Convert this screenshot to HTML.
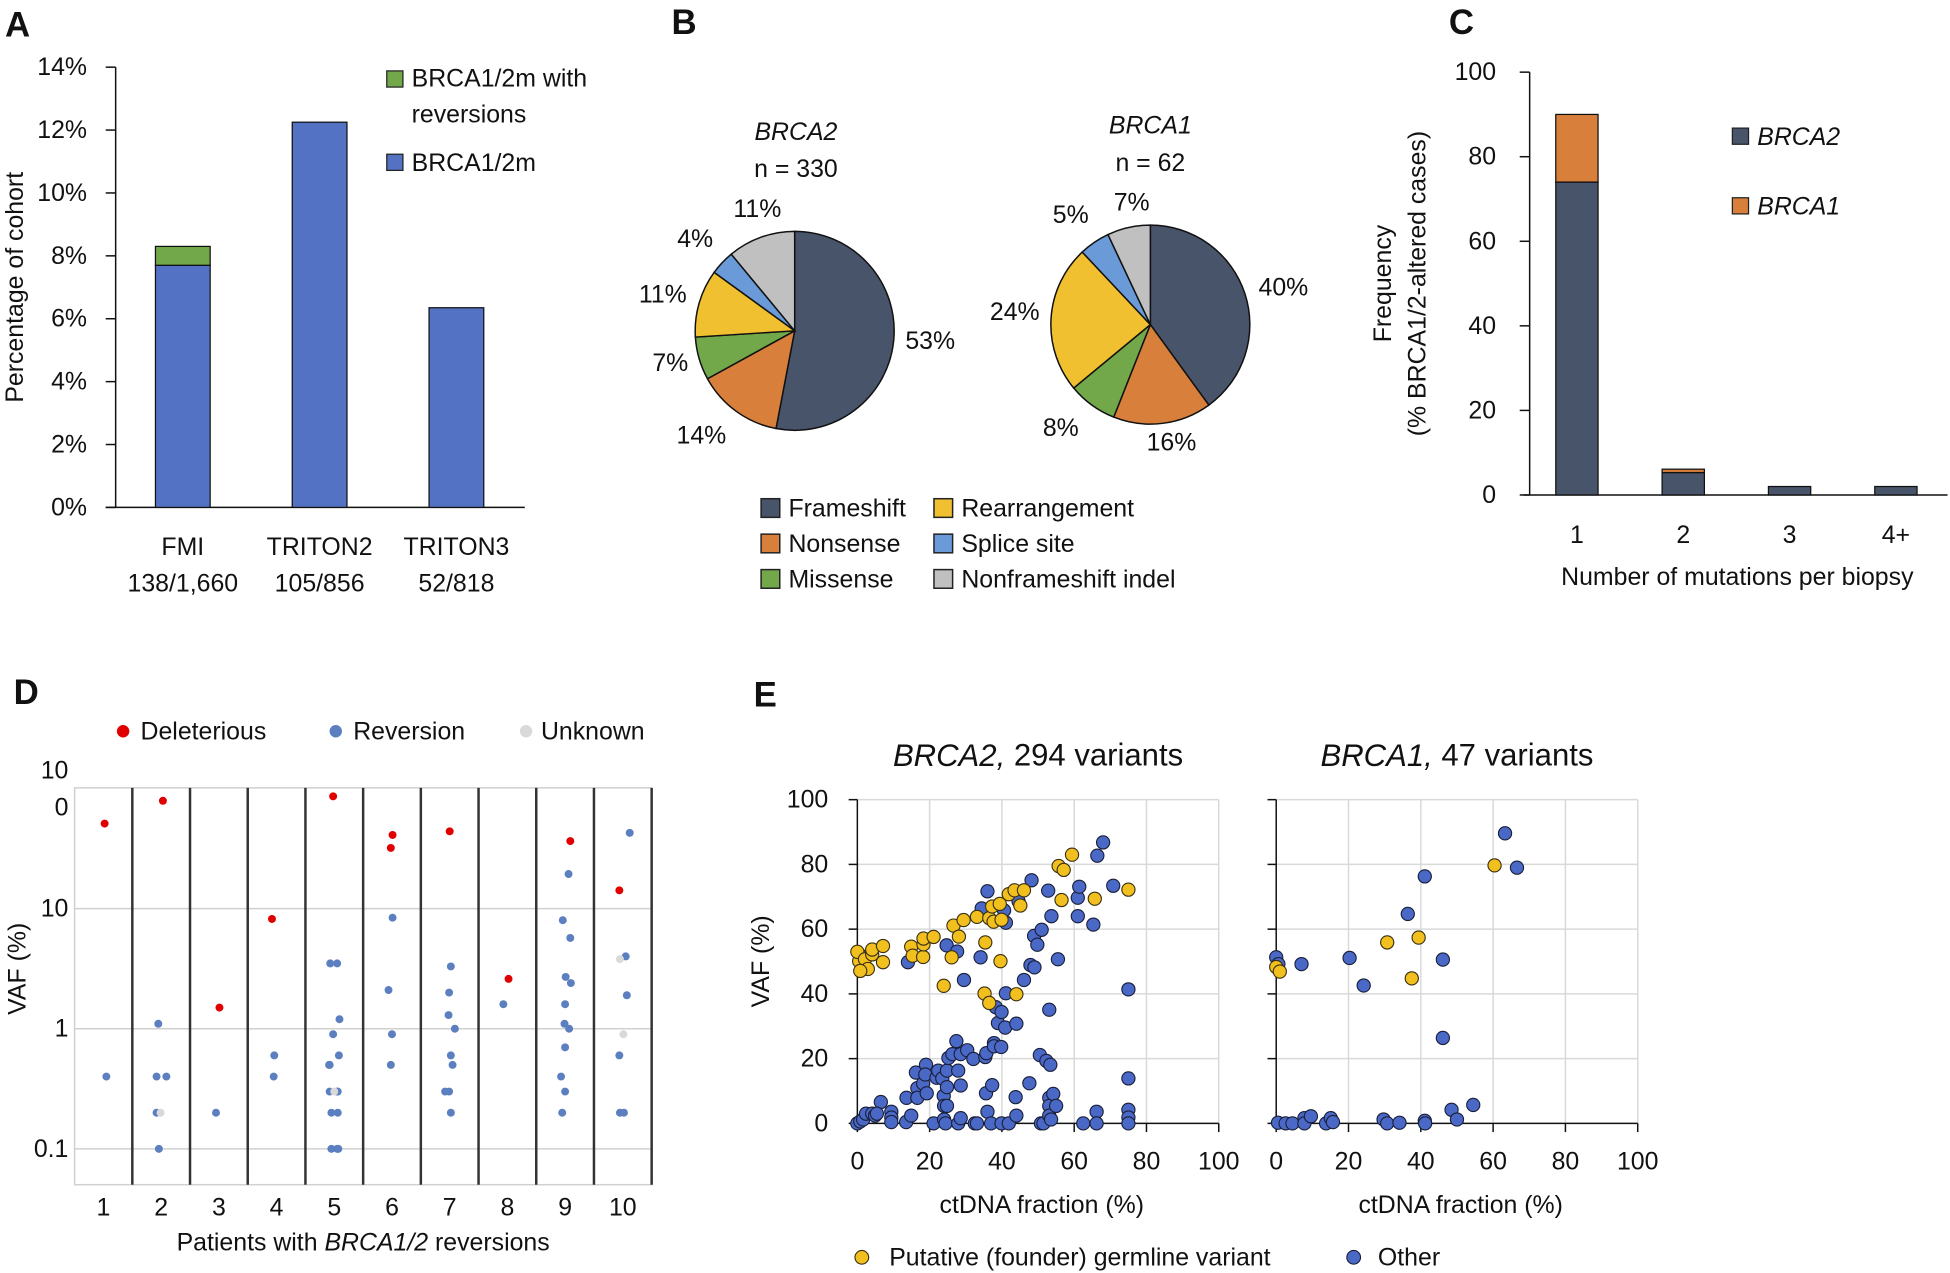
<!DOCTYPE html>
<html><head><meta charset="utf-8">
<style>
html,body{margin:0;padding:0;background:#fff;}
svg{display:block;font-family:"Liberation Sans",sans-serif;}
</style></head>
<body>
<svg id="fig" width="1950" height="1273" viewBox="0 0 1568 1023.6" xmlns="http://www.w3.org/2000/svg"></svg>
<script>
// ---------- Panel A data ----------
const aCats = ["FMI","TRITON2","TRITON3"];
const aSub = ["138/1,660","105/856","52/818"];
const aBase = [7.7, 12.25, 6.35];
const aRev = [0.6, 0, 0];
const aTicks = [0,2,4,6,8,10,12,14];
// ---------- Panel B data ----------
const bCats = ["Frameshift","Nonsense","Missense","Rearrangement","Splice site","Nonframeshift indel"];
const bBrca2 = [53,14,7,11,4,11];
const bBrca1 = [40,16,8,24,5,7];
// ---------- Panel C data ----------
const cCats = ["1","2","3","4+"];
const cBrca2 = [74, 5.3, 2, 2];
const cBrca1 = [16, 0.8, 0, 0];
const cTicks = [0,20,40,60,80,100];
// ---------- Panel D data ----------
const dPatient = [1,1, 2,2,2,2,2,2,2, 3,3, 4,4,4, 5,5,5,5,5,5,5,5,5,5,5,5,5,5,5,5,5, 6,6,6,6,6,6, 7,7,7,7,7,7,7,7,7,7, 8,8, 9,9,9,9,9,9,9,9,9,9,9,9,9, 10,10,10,10,10,10,10,10,10];
const dVaf = [51,0.4, 79,1.1,0.4,0.4,0.2,0.2,0.1, 1.5,0.2, 8.2,0.6,0.4, 86,3.5,3.5,1.2,0.9,0.5,0.5,0.6,0.3,0.3,0.3,0.2,0.2,0.1,0.1,0.1,0.3, 41,32,8.4,2.1,0.9,0.5, 44,3.3,2.0,1.3,1.0,0.6,0.5,0.3,0.3,0.2, 2.6,1.6, 36.5,19.4,8.0,5.7,2.7,2.4,1.6,1.1,1.0,0.7,0.4,0.3,0.2, 14.2,42.7,4.0,3.8,1.9,0.9,0.6,0.2,0.2];
const dType = ["d","r", "d","r","r","r","r","u","r", "d","r", "d","r","r", "d","r","r","r","r","r","r","r","r","r","r","r","r","r","r","r","u", "d","d","r","r","r","r", "d","r","r","r","r","r","r","r","r","r", "d","r", "d","r","r","r","r","r","r","r","r","r","r","r","r", "d","r","r","u","r","u","r","r","r"];
const dJitter = [0.02,0.05, 0.03,-0.05,-0.08,0.09,-0.08,-0.01,-0.04, 0.01,-0.05, -0.08,-0.04,-0.05, -0.02,-0.07,0.05,0.09,-0.02,-0.08,-0.09,0.08,-0.08,0.06,0.05,-0.05,0.06,-0.05,0.07,0.05,0.0, 0.01,-0.02,0.01,-0.06,0.0,-0.02, 0.0,0.02,-0.01,-0.02,0.09,0.02,0.05,-0.08,-0.01,0.02, 0.02,-0.07, 0.09,0.06,-0.04,0.09,0.01,0.1,0.0,-0.01,0.07,0.0,-0.07,0.0,-0.05, -0.06,0.12,0.05,-0.05,0.07,0.01,-0.06,-0.05,0.02];
const dTicks = [0.1,1,10];
// ---------- Panel E data ----------
const b2GermX = [0.5,0,2.1,2.9,4.1,4.1,0.8,7.1,7.1,14.9,15.3,18.2,18.3,18.3,21.1,23.9,26.1,26.6,28.1,29.4,33.1,35.4,35.2,36.5,36.5,37.7,37.3,39.4,39.9,39.6,41.9,43.5,44,45.1,46.1,55.7,57.1,59.4,56.5,65.7,75];
const b2GermY = [50.1,53,50.7,47.7,52.2,53.7,47.1,49.8,54.8,54.6,51.8,51.4,55.3,57.1,57.6,42.5,51.3,61.1,57.7,62.8,63.8,55.9,40.1,37.2,63.4,62.3,67,67.8,62.9,50.1,70.8,72,39.9,67.3,72,79.5,78.3,83,69,69.4,72.2];
const b2OtherX = [0.8,1.3,0,0.8,1.6,2.4,4.1,4.9,6.5,5.4,9.4,9.4,9.4,13.5,13.6,14.9,14,16.2,16.6,16.6,18.2,19,18.8,19.2,21.1,21.9,22.4,23.5,23.9,24,24,24.4,24.7,24.8,24.8,25.2,24.8,26.3,27.4,27.6,27.9,27.9,28.6,28.6,28.6,29.5,30.4,32.1,32.5,33.1,34.1,34.4,35.4,35.6,35.7,36,36,37,37.3,37.8,37.8,38.3,38.9,39.8,39.9,39.9,40.6,41.1,40.9,41.1,41.9,43.8,44,44,44.6,46.1,47.6,47.9,48.2,48.9,49,49.8,50.5,51,50.8,51.5,52.3,52.8,53.1,53.4,53.1,53.1,53.1,53.6,53.7,54.2,55,55.5,61,61.4,61,62.5,65.3,66.2,66.2,66.4,68,70.8,75,75,75,75,75];
const b2OtherY = [51.9,50.7,0,0.6,1.2,3,3,2.4,6.6,3,3.6,1.8,0.4,0.4,7.9,2.4,49.8,15.7,10.9,7.9,12.3,18.1,15.1,9.3,0,14.1,16.3,13.9,8.5,5.4,1.2,0,55,11.2,16.3,20.2,5.4,21.4,25.4,53.1,16.3,0,11.7,21.4,1.6,44.3,22.6,19.9,0,0,51.3,66.4,20.5,9.3,21.7,71.7,3.6,0,11.8,24.8,23.8,35.9,31,23.6,34.4,0,65.8,62,29.6,40.2,0,8.1,2.4,30.8,68.6,44.3,12.4,48.9,75.1,57.9,48.2,55.2,21.1,59.8,0,0,19.3,71.9,35.1,18.1,7.9,5.4,2.4,1.2,64,9.1,5.4,50.7,69.7,73.1,64,0,61.4,3.6,0,82.7,86.8,73.4,41.4,13.9,4.2,1.8,0];
const b1GermX = [0,1,30.7,39.4,37.5,60.4];
const b1GermY = [48.3,46.9,55.9,57.4,44.8,79.7];
const b1OtherX = [0,0.6,0.5,2.6,4.5,7,7.8,7.8,9.6,13.8,15.1,15.7,20.3,24.2,29.7,30.7,34.1,36.4,41.1,41.1,41.2,46.1,46.1,48.5,50,54.5,63.3,66.6];
const b1OtherY = [51.3,49.2,0.2,0,0,49.2,1.6,0,2.2,0,1.6,0.4,51.1,42.6,1.2,0,0.2,64.7,76.3,0.8,0,50.6,26.4,4.2,1.2,5.7,89.6,79];
const eTicks = [0,20,40,60,80,100];

const NS = "http://www.w3.org/2000/svg";
const svg = document.getElementById('fig');
function el(tag, attrs, parent){
  const e = document.createElementNS(NS, tag);
  for (const k in attrs) e.setAttribute(k, attrs[k]);
  (parent||svg).appendChild(e);
  return e;
}
function txt(s, x, y, size, anchor, parent, extra){
  const t = el('text', Object.assign({x:x, y:y, 'font-size':size, 'text-anchor':anchor||'start', fill:'#111', 'dominant-baseline':'central'}, extra||{}), parent);
  t.textContent = s;
  return t;
}
function group(name){
  const g = el('g', {});
  
  
  return g;
}
const DARK="#48546a", ORANGE="#d87f3c", GREEN="#72a84a", YELLOW="#f0c030", LBLUE="#6a9bd8", GRAY="#c0c0c0";

// ===== Panel A =====
(function(){
  const g = group('panel-a');
  let t = txt('A', 4, 20, 28, 'start', g, {'font-weight':'bold'});
   
  const y0=408, y1=54, vmax=14, ax=93;
  const yS = v => y0 - (v/vmax)*(y0-y1);
  aTicks.forEach(v=>{
    el('line',{x1:ax-8,x2:ax,y1:yS(v),y2:yS(v),stroke:'#111','stroke-width':1.2},g);
    const l = txt(v+'%', 70, yS(v), 20, 'end', g);
     
  });
  el('line',{x1:ax,x2:ax,y1:y1,y2:y0,stroke:'#111','stroke-width':1.2},g);
  el('line',{x1:85,x2:422,y1:y0,y2:y0,stroke:'#111','stroke-width':1.2},g);
  const bw=44, step=110, cx0=147;
  aCats.forEach((c,i)=>{
    const cx = cx0 + i*step;
    const b = el('rect',{x:cx-bw/2,y:yS(aBase[i]),width:bw,height:y0-yS(aBase[i]),fill:'#5472c4',stroke:'#111','stroke-width':1},g);
     
    if (aRev[i]>0){
      const r = el('rect',{x:cx-bw/2,y:yS(aBase[i]+aRev[i]),width:bw,height:yS(aBase[i])-yS(aBase[i]+aRev[i]),fill:GREEN,stroke:'#111','stroke-width':1},g);
       
    }
    const l1 = txt(c, cx, 440, 20, 'middle', g);
     
    const l2 = txt(aSub[i], cx, 469, 20, 'middle', g);
     
  });
  const yt = txt('Percentage of cohort', 0, 0, 20, 'middle', g, {transform:'translate(12,231) rotate(-90)'});
   
  const lg = el('g',{},g);
   
  el('rect',{x:311,y:57,width:13,height:13,fill:GREEN,stroke:'#222','stroke-width':1},lg);
  txt('BRCA1/2m with', 331, 63, 20, 'start', lg);
  txt('reversions', 331, 92, 20, 'start', lg);
  el('rect',{x:311,y:124,width:13,height:13,fill:'#5472c4',stroke:'#222','stroke-width':1},lg);
  txt('BRCA1/2m', 331, 131, 20, 'start', lg);
})();

// ===== Panel B =====
(function(){
  const g = group('panel-b');
  let t = txt('B', 540, 18, 28, 'start', g, {'font-weight':'bold'});
   
  const cols=[DARK,ORANGE,GREEN,YELLOW,LBLUE,GRAY];
  function pie(vals, cx, cy, r, name, labelPos){
    const pg = el('g',{},g);
     
    const tot = vals.reduce((a,b)=>a+b,0);
    let a0 = -Math.PI/2;
    vals.forEach((v,i)=>{
      const a1 = a0 + v/tot*2*Math.PI;
      const x0=cx+r*Math.cos(a0), y0=cy+r*Math.sin(a0), x1=cx+r*Math.cos(a1), y1=cy+r*Math.sin(a1);
      const large = (a1-a0)>Math.PI?1:0;
      const p = el('path',{d:`M${cx},${cy} L${x0},${y0} A${r},${r} 0 ${large} 1 ${x1},${y1} Z`,fill:cols[i],stroke:'#111','stroke-width':1.2},pg);
       
      const lp = labelPos[i];
      const l = txt(v+'%', lp[0], lp[1], 20, 'middle', pg);
       
      a0 = a1;
    });
  }
  txt('BRCA2', 640, 106, 20, 'middle', g, {'font-style':'italic'});
  txt('n = 330', 640, 136, 20, 'middle', g);
  pie(bBrca2, 639, 266, 80, 'pie-brca2', [[748,274],[564,350],[539,292],[533,237],[559,192],[609,168]]);
  txt('BRCA1', 925, 101, 20, 'middle', g, {'font-style':'italic'});
  txt('n = 62', 925, 131, 20, 'middle', g);
  pie(bBrca1, 925, 261, 80, 'pie-brca1', [[1032,231],[942,356],[853,344],[816,251],[861,173],[910,163]]);
  const lg = el('g',{},g);
   
  bCats.forEach((c,i)=>{
    const col = Math.floor(i/3), row = i%3;
    const x = col? 751:612, y = 409 + row*28.5;
    el('rect',{x:x,y:y-8,width:15,height:15,fill:cols[i],stroke:'#222','stroke-width':1.2},lg);
    txt(c, x+22, y, 20, 'start', lg);
  });
})();

// ===== Panel C =====
(function(){
  const g = group('panel-c');
  let t = txt('C', 1165, 18, 28, 'start', g, {'font-weight':'bold'});
   
  const y0=398, y1=58, ax=1230;
  const yS = v => y0 - v/100*(y0-y1);
  cTicks.forEach(v=>{
    el('line',{x1:ax-8,x2:ax,y1:yS(v),y2:yS(v),stroke:'#111','stroke-width':1.2},g);
    const l = txt(String(v), 1203, yS(v), 20, 'end', g);
     
  });
  el('line',{x1:ax,x2:ax,y1:y1,y2:y0,stroke:'#111','stroke-width':1.2},g);
  el('line',{x1:1225,x2:1566,y1:y0,y2:y0,stroke:'#111','stroke-width':1.2},g);
  const bw=34, step=85.5, cx0=1268;
  cCats.forEach((c,i)=>{
    const cx = cx0 + i*step;
    const b = el('rect',{x:cx-bw/2,y:yS(cBrca2[i]),width:bw,height:y0-yS(cBrca2[i]),fill:DARK,stroke:'#111','stroke-width':1},g);
     
    if (cBrca1[i]>0){
      const r = el('rect',{x:cx-bw/2,y:yS(cBrca2[i]+cBrca1[i]),width:bw,height:yS(cBrca2[i])-yS(cBrca2[i]+cBrca1[i]),fill:ORANGE,stroke:'#111','stroke-width':1},g);
       
    }
    const l = txt(c, cx, 430, 20, 'middle', g);
     
  });
  const xt = txt('Number of mutations per biopsy', 1397, 464, 20, 'middle', g);
   
  const yt = el('g',{transform:'translate(1126,228) rotate(-90)'},g);
   
  txt('Frequency', 0, -14, 20, 'middle', yt);
  txt('(% BRCA1/2-altered cases)', 0, 14, 20, 'middle', yt);
  const lg = el('g',{},g);
   
  el('rect',{x:1393,y:103,width:13,height:13,fill:DARK,stroke:'#222','stroke-width':1},lg);
  txt('BRCA2', 1413, 110, 20, 'start', lg, {'font-style':'italic'});
  el('rect',{x:1393,y:159,width:13,height:13,fill:ORANGE,stroke:'#222','stroke-width':1},lg);
  txt('BRCA1', 1413, 166, 20, 'start', lg, {'font-style':'italic'});
})();

// ===== Panel D =====
(function(){
  const g = group('panel-d');
  let t = txt('D', 11, 557, 28, 'start', g, {'font-weight':'bold'});
   
  const left=60, right=524, top=633.5, bot=952.6, colW=(right-left)/10;
  const yS = v => 827.2 - 96.6*Math.log10(v);
  const xS = (p,j) => left + (p-0.5+j)*colW;
  el('rect',{x:left,y:top,width:right-left,height:bot-top,fill:'none',stroke:'#d0d0d0','stroke-width':1.2},g);
  dTicks.forEach(v=>{
    el('line',{x1:left,x2:right,y1:yS(v),y2:yS(v),stroke:'#d0d0d0','stroke-width':1.2},g);
    const l = txt(String(v), 55, yS(v), 20, 'end', g);
     
  });
  txt('10', 55, 619.7, 20, 'end', g);
  txt('0', 55, 649.5, 20, 'end', g);
  for (let p=1;p<=10;p++){
    el('line',{x1:left+p*colW,x2:left+p*colW,y1:top,y2:bot,stroke:'#333','stroke-width':2},g);
    const l = txt(String(p), xS(p,0), 971, 20, 'middle', g);
     
  }
  const colMap = {d:'#e00000', r:'#5b7fbf', u:'#d9d9d9'};
  dPatient.forEach((p,i)=>{
    const c = el('circle',{cx:xS(p,dJitter[i]),cy:yS(dVaf[i]),r:3.2,fill:colMap[dType[i]]},g);
     
  });
  const xt = el('text',{x:292,y:999,'font-size':20,'text-anchor':'middle','dominant-baseline':'central',fill:'#111'},g);
   
  xt.innerHTML = 'Patients with <tspan font-style="italic">BRCA1/2</tspan> reversions';
  const yt = txt('VAF (%)', 0, 0, 20, 'middle', g, {transform:'translate(14,779) rotate(-90)'});
   
  const lg = el('g',{},g);
   
  [['Deleterious','#e00000',99,113],['Reversion','#5b7fbf',270,284],['Unknown','#d9d9d9',423,435]].forEach(a=>{
    el('circle',{cx:a[2],cy:588,r:5,fill:a[1]},lg);
    txt(a[0], a[3], 588, 20, 'start', lg);
  });
})();

// ===== Panel E =====
(function(){
  const g = group('panel-e');
  let t = txt('E', 606, 559, 28, 'start', g, {'font-weight':'bold'});
   
  const y0=903.3, y100=643.0;
  const yS = v => y0 - v/100*(y0-y100);
  function scatter(x0, x100, name, title, germX, germY, othX, othY, showY){
    const pg = el('g',{},g);
     
    const xS = v => x0 + v/100*(x100-x0);
    eTicks.forEach(v=>{
      if (v>0){
        el('line',{x1:x0,x2:x100,y1:yS(v),y2:yS(v),stroke:'#d9d9d9','stroke-width':1.2},pg);
        el('line',{x1:xS(v),x2:xS(v),y1:y100,y2:y0,stroke:'#d9d9d9','stroke-width':1.2},pg);
      }
      el('line',{x1:x0-7,x2:x0,y1:yS(v),y2:yS(v),stroke:'#111','stroke-width':1.2},pg);
      el('line',{x1:xS(v),x2:xS(v),y1:y0,y2:y0+7,stroke:'#111','stroke-width':1.2},pg);
      const xl = txt(String(v), xS(v), 934, 20, 'middle', pg);
       
      if (showY){
        const yl = txt(String(v), 666, yS(v), 20, 'end', pg);
         
      }
    });
    el('line',{x1:x0,x2:x0,y1:y100,y2:y0,stroke:'#111','stroke-width':1.2},pg);
    el('line',{x1:x0,x2:x100,y1:y0,y2:y0,stroke:'#111','stroke-width':1.2},pg);
    othX.forEach((v,i)=>{
      const c = el('circle',{cx:xS(v),cy:yS(othY[i]),r:5.3,fill:'#4a69c6',stroke:'#1a1f3a','stroke-width':0.9},pg);
       
    });
    germX.forEach((v,i)=>{
      const c = el('circle',{cx:xS(v),cy:yS(germY[i]),r:5.3,fill:'#f2c01e',stroke:'#3a3010','stroke-width':0.9},pg);
       
    });
    const tt = el('text',{x:(x0+x100)/2,y:607,'font-size':25,'text-anchor':'middle','dominant-baseline':'central',fill:'#111'},pg);
     
    tt.innerHTML = title;
    const xt = txt('ctDNA fraction (%)', (x0+x100)/2+3, 969, 20, 'middle', pg);
     
  }
  scatter(689.4, 980.0, 'scatter-brca2', '<tspan font-style="italic">BRCA2,</tspan> 294 variants', b2GermX, b2GermY, b2OtherX, b2OtherY, true);
  scatter(1026.2, 1316.9, 'scatter-brca1', '<tspan font-style="italic">BRCA1,</tspan> 47 variants', b1GermX, b1GermY, b1OtherX, b1OtherY, false);
  const yt = txt('VAF (%)', 0, 0, 20, 'middle', g, {transform:'translate(612,773) rotate(-90)'});
   
  const lg = el('g',{},g);
   
  el('circle',{cx:693,cy:1011,r:5.5,fill:'#f2c01e',stroke:'#3a3010','stroke-width':0.9},lg);
  txt('Putative (founder) germline variant', 715, 1011, 20, 'start', lg);
  el('circle',{cx:1088.5,cy:1011,r:5.5,fill:'#4a69c6',stroke:'#1a1f3a','stroke-width':0.9},lg);
  txt('Other', 1108, 1011, 20, 'start', lg);
})();
</script>
</body></html>
